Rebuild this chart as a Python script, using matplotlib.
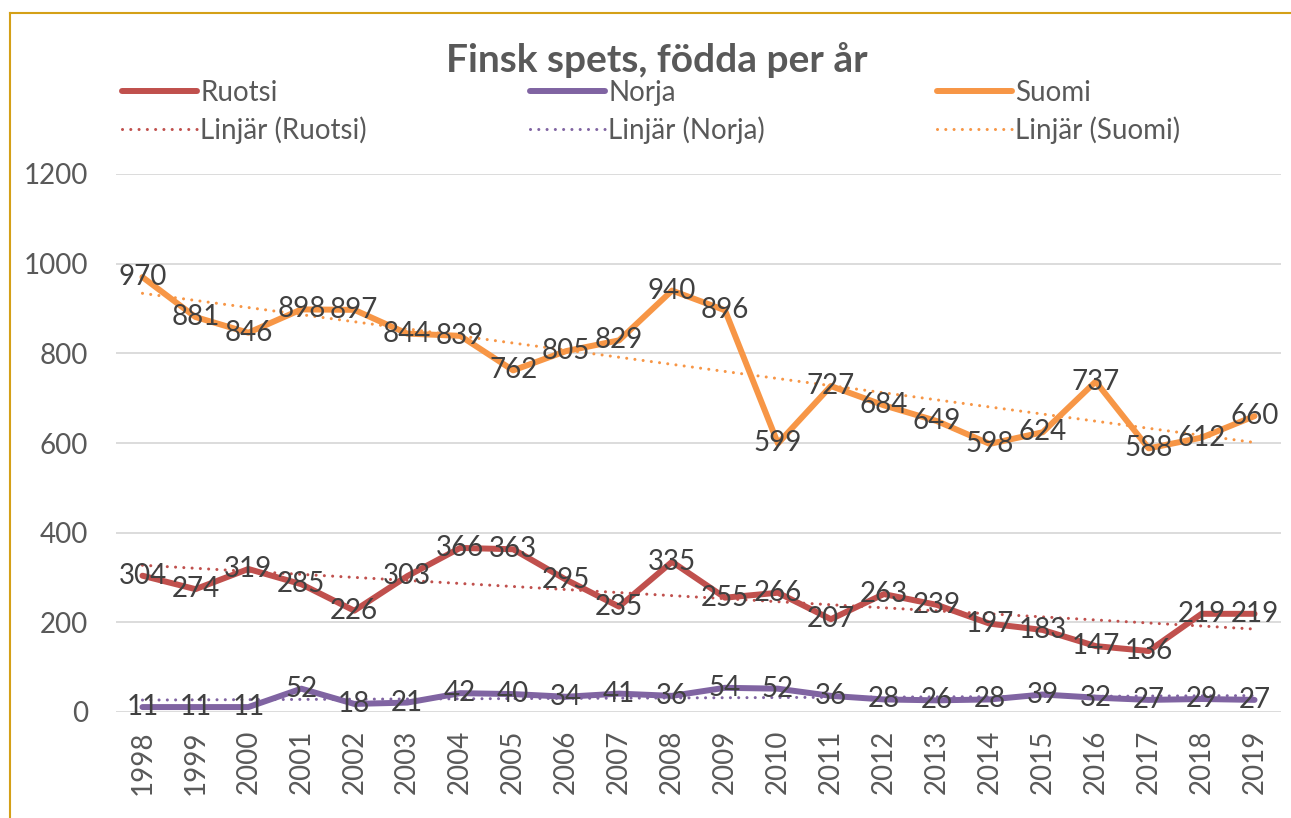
import numpy as np
import matplotlib
matplotlib.use('Agg')
import matplotlib.pyplot as plt
from matplotlib.lines import Line2D

plt.rcParams['font.family'] = ['Lato', 'DejaVu Sans']

years = list(range(1998, 2020))
ruotsi = [304, 274, 319, 285, 226, 303, 366, 363, 295, 235, 335,
          255, 266, 207, 263, 239, 197, 183, 147, 136, 219, 219]
norja = [11, 11, 11, 52, 18, 21, 42, 40, 34, 41, 36,
         54, 52, 36, 28, 26, 28, 39, 32, 27, 29, 27]
suomi = [970, 881, 846, 898, 897, 844, 839, 762, 805, 829, 940,
         896, 599, 727, 684, 649, 598, 624, 737, 588, 612, 660]

series = [('Ruotsi', ruotsi, '#C0504D'),
          ('Norja', norja, '#8064A2'),
          ('Suomi', suomi, '#F79646')]

fig = plt.figure(figsize=(12.91, 8.18), dpi=100)
ax = fig.add_axes([116 / 1291, 1 - 712 / 818, 1165 / 1291, 538 / 818])

x = np.arange(len(years))
handles = []
for name, vals, col in series:
    ln, = ax.plot(x, vals, color=col, lw=4.3, solid_capstyle='round',
                  solid_joinstyle='round', zorder=3, label=name)
    # linear trend line (Excel "Linjär")
    k, b = np.polyfit(x, vals, 1)
    tr, = ax.plot(x, k * x + b, color=col, lw=2.2, ls=(0, (0.01, 2.7)),
                  dash_capstyle='round', zorder=2, label='Linjär (%s)' % name)
    handles.append([ln, tr])
    for xi, v in zip(x, vals):
        ax.text(xi, v, str(v), ha='center', va='center', fontsize=20,
                color='#404040', zorder=5)

ax.set_xlim(-0.5, len(years) - 0.5)
ax.set_ylim(0, 1200)
ax.set_yticks(range(0, 1201, 200))
ax.set_xticks(x)
ax.set_xticklabels(years, rotation=90)
ax.grid(axis='y', color='#D9D9D9', lw=1.3)
ax.set_axisbelow(True)
for s in ax.spines.values():
    s.set_visible(False)
ax.tick_params(axis='both', length=0, labelsize=20, labelcolor='#595959')
ax.tick_params(axis='y', pad=20)
ax.tick_params(axis='x', pad=13)

fig.text(0.509, 1 - 60 / 818, 'Finsk spets, födda per år', ha='center',
         va='center', fontsize=28, fontweight='bold', color='#595959')

# three legend columns, spaced evenly like Excel does
for hs, xl in zip(handles, [122, 530, 937]):
    leg = fig.legend(handles=hs, loc='upper left',
                     bbox_to_anchor=(xl / 1291, 1 - 80 / 818), frameon=False,
                     fontsize=20, labelcolor='#595959', handlelength=2.7,
                     handletextpad=0.12, labelspacing=0.37, borderpad=0,
                     borderaxespad=0)

# chart border
fig.add_artist(Line2D([10 / 1291, 10 / 1291], [0, 1 - 13 / 818],
                      color='#D4A017', lw=1.5, transform=fig.transFigure))
fig.add_artist(Line2D([10 / 1291, 1], [1 - 13 / 818, 1 - 13 / 818],
                      color='#D4A017', lw=1.5, transform=fig.transFigure))

fig.savefig('out.png', dpi=100)
